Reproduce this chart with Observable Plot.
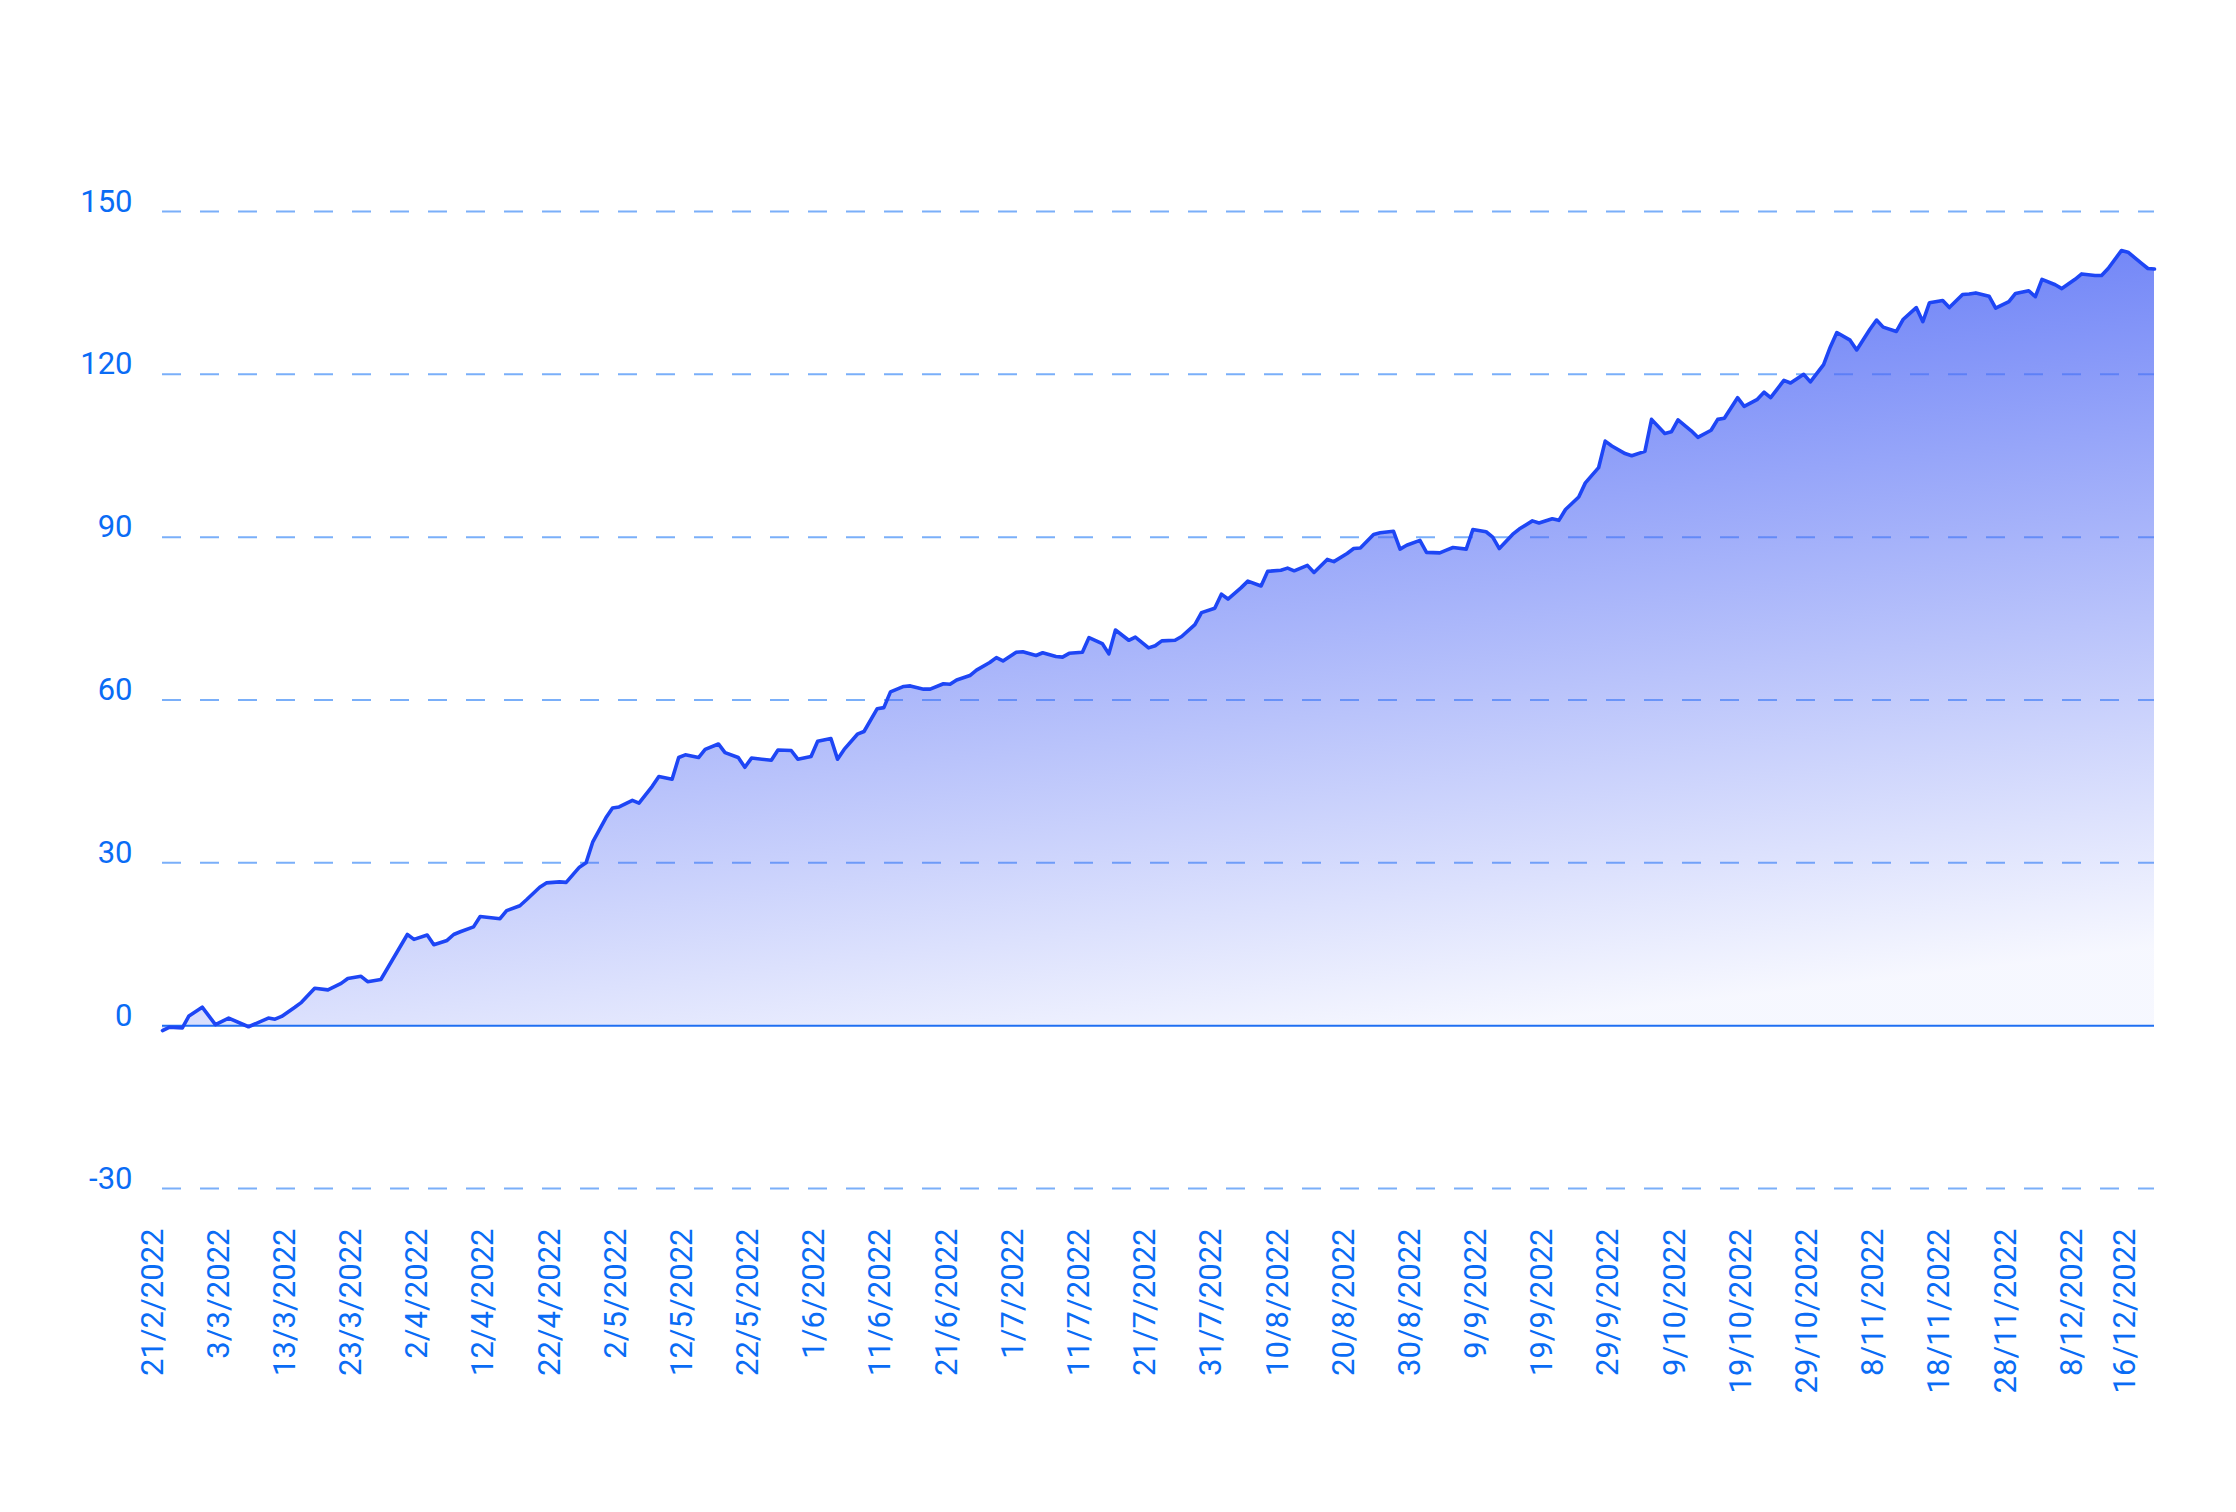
<!DOCTYPE html>
<html>
<head>
<meta charset="utf-8">
<script src="https://cdn.jsdelivr.net/npm/d3@7"></script>
<script src="https://cdn.jsdelivr.net/npm/@observablehq/plot@0.6"></script>
<style>
  html, body { margin: 0; padding: 0; background: #ffffff; }
  #chart svg { display: block; }
</style>
</head>
<body>
<div id="chart"></div>
<script>
// ---- data ----
const startDate = "21/2/2022";
const endDate = "19/12/2022";
// day offsets from the start date
const days = [0,1,3,4,6,8,10,13,16,17,18,20,21,23,25,27,28,30,31,33,
  37,38,40,41,43,44,45,47,48,51,52,54,55,57,58,60,61,63,64,65,
  67,68,69,71,72,74,75,77,78,79,81,82,84,85,87,88,89,92,93,95,
  96,98,99,101,102,103,105,106,108,109,110,112,113,115,116,118,119,120,122,123,
  125,126,127,129,130,132,133,135,136,137,139,140,142,143,144,146,147,149,150,151,
  153,154,156,157,159,160,161,163,164,166,167,169,170,171,173,174,176,177,179,180,
  181,183,184,186,187,188,190,191,193,194,195,197,198,200,201,202,204,205,207,208,
  210,211,212,214,215,217,218,219,221,222,224,225,227,228,229,231,232,234,235,236,
  238,239,241,242,243,245,246,248,249,251,252,253,255,256,258,259,260,262,263,265,
  266,267,269,270,272,273,274,276,277,279,280,282,283,284,286,287,289,290,292,293,
  294,296,297,299,300,301];
const values = [-0.9,-0.3,-0.4,1.8,3.4,0.2,1.4,-0.2,1.4,1.2,1.7,3.4,4.3,6.9,6.6,7.8,8.7,9.1,8.1,8.5,
  16.8,15.9,16.7,14.9,15.7,16.8,17.3,18.2,20.1,19.7,21.2,22.1,23.2,25.5,26.3,26.5,26.4,29.2,30.0,33.8,
  38.3,40.1,40.3,41.5,41.0,44.1,45.9,45.4,49.4,49.9,49.4,50.9,51.9,50.3,49.4,47.6,49.3,48.9,50.8,50.7,
  49.1,49.6,52.4,52.9,49.1,50.9,53.7,54.2,58.4,58.6,61.5,62.5,62.6,62.0,62.0,63.0,62.9,63.7,64.5,65.5,
  66.9,67.8,67.2,68.8,68.9,68.2,68.7,68.0,67.9,68.6,68.8,71.5,70.4,68.5,72.9,71.0,71.6,69.6,70.0,70.9,
  71.0,71.7,73.9,76.1,76.9,79.5,78.6,80.7,81.9,81.0,83.7,83.9,84.3,83.8,84.8,83.5,85.9,85.5,87.0,87.9,
  88.0,90.5,90.8,91.1,87.8,88.5,89.4,87.2,87.1,87.6,88.1,87.8,91.4,91.0,90.0,87.9,90.5,91.5,93.0,92.6,
  93.4,93.1,95.1,97.4,100.0,102.8,107.7,106.8,105.4,105.0,105.8,111.7,109.1,109.4,111.6,109.6,108.4,109.7,111.7,111.9,
  115.7,114.1,115.4,116.7,115.7,118.9,118.4,120.0,118.6,121.8,125.0,127.7,126.3,124.5,128.3,130.0,128.7,127.9,130.1,132.3,
  129.7,133.2,133.6,132.3,134.7,134.8,135.0,134.4,132.2,133.4,134.9,135.4,134.3,137.5,136.5,135.8,137.5,138.5,138.2,138.2,
  139.5,142.8,142.5,140.5,139.5,139.4];
const yTicks = [-30, 0, 30, 60, 90, 120, 150];
const xTickLabels = ["21/2/2022","3/3/2022","13/3/2022","23/3/2022","2/4/2022","12/4/2022","22/4/2022",
  "2/5/2022","12/5/2022","22/5/2022","1/6/2022","11/6/2022","21/6/2022","1/7/2022","11/7/2022",
  "21/7/2022","31/7/2022","10/8/2022","20/8/2022","30/8/2022","9/9/2022","19/9/2022","29/9/2022",
  "9/10/2022","19/10/2022","29/10/2022","8/11/2022","18/11/2022","28/11/2022","8/12/2022","16/12/2022"];

// ---- build ----
const parse = d3.utcParse("%d/%m/%Y");
const start = parse(startDate);
const end = parse(endDate);
const data = days.map((d, i) => ({date: d3.utcDay.offset(start, d), value: values[i]}));
const xTicks = xTickLabels.map(parse);
const fmt = d => `${d.getUTCDate()}/${d.getUTCMonth() + 1}/${d.getUTCFullYear()}`;

const textColor = "#0a6cf5";

const chart = Plot.plot({
  width: 2236,
  height: 1512,
  marginLeft: 162,
  marginRight: 82,
  marginTop: 211,
  marginBottom: 324,
  style: {fontFamily: "Roboto, sans-serif", fontSize: "31px", color: textColor, background: "#ffffff"},
  x: {type: "utc", domain: [start, end], label: null},
  y: {domain: [-30, 150], label: null},
  marks: [
    Plot.gridY(yTicks.filter(v => v !== 0), {stroke: "#4d94f7", strokeOpacity: 0.75, strokeWidth: 2, strokeDasharray: "19,19"}),
    Plot.areaY(data, {x: "date", y: "value", fill: "url(#areaGrad)"}),
    Plot.ruleY([0], {stroke: "#1f6ff2", strokeWidth: 2}),
    Plot.lineY(data, {x: "date", y: "value", stroke: "#1e46f5", strokeWidth: 3.6, strokeLinejoin: "round"}),
    Plot.axisY(yTicks, {anchor: "left", label: null, tickSize: 0, tickPadding: 30, lineAnchor: "bottom", tickFormat: v => String(v), fill: textColor, fontSize: 31}),
    Plot.axisX(xTicks, {anchor: "bottom", label: null, tickSize: 0, tickRotate: -90, tickPadding: 40, textAnchor: "end", lineAnchor: "bottom", tickFormat: fmt, fill: textColor, fontSize: 31})
  ]
});

// gradient definition for the area
const ns = "http://www.w3.org/2000/svg";
const defs = document.createElementNS(ns, "defs");
const grad = document.createElementNS(ns, "linearGradient");
grad.setAttribute("id", "areaGrad");
grad.setAttribute("x1", "0.35"); grad.setAttribute("y1", "0");
grad.setAttribute("x2", "0.65"); grad.setAttribute("y2", "1");
[[0, 0.95], [1, 0.05]].forEach(([o, op]) => {
  const s = document.createElementNS(ns, "stop");
  s.setAttribute("offset", o);
  s.setAttribute("stop-color", "rgb(80,105,245)");
  s.setAttribute("stop-opacity", op);
  grad.appendChild(s);
});
defs.appendChild(grad);
chart.insertBefore(defs, chart.firstChild);

document.getElementById("chart").appendChild(chart);
</script>
</body>
</html>
